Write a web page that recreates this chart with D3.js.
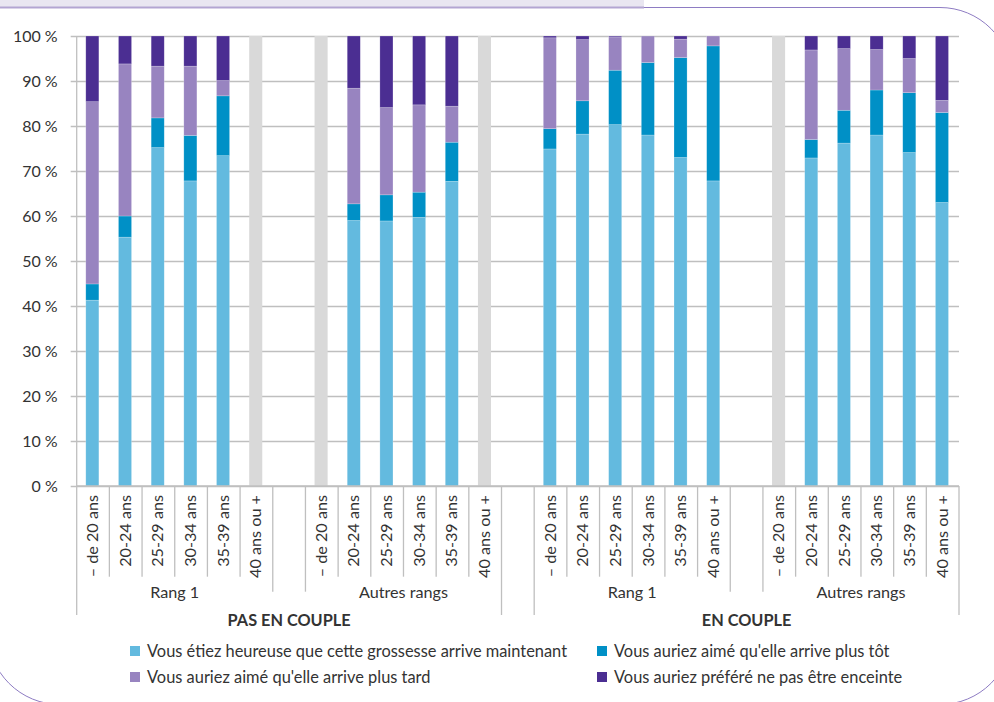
<!DOCTYPE html>
<html><head><meta charset="utf-8">
<script src="https://cdn.jsdelivr.net/npm/d3@7"></script>
<style>body{margin:0;background:#fff}svg{display:block}text{font-family:Lato,"Open Sans",sans-serif;fill:#333}</style>
</head><body><svg id="c" width="994" height="702"></svg>
<script>
const coupleGroups = ["PAS EN COUPLE", "EN COUPLE"];
const rangGroups = ["Rang 1", "Autres rangs"];
const ages = ["– de 20 ans", "20-24 ans", "25-29 ans", "30-34 ans", "35-39 ans", "40 ans ou +"];
const seriesNames = [
  "Vous étiez heureuse que cette grossesse arrive maintenant",
  "Vous auriez aimé qu'elle arrive plus tôt",
  "Vous auriez aimé qu'elle arrive plus tard",
  "Vous auriez préféré ne pas être enceinte"
];
// order: PAS EN COUPLE/Rang 1, PAS EN COUPLE/Autres rangs, EN COUPLE/Rang 1, EN COUPLE/Autres rangs ; null = no data (grey bar)
const heureuse = [41.3,55.3,75.2,67.8,73.4,null, null,59.0,58.9,59.7,67.7,null, 74.9,78.2,80.3,78.0,73.0,67.8, null,72.9,76.2,78.0,74.1,63.0];
const plusTot  = [3.6,4.7,6.6,10.1,13.3,null, null,3.7,5.8,5.6,8.7,null, 4.5,7.4,12.1,16.1,22.2,30.0, null,4.1,7.3,10.0,13.3,20.0];
const plusTard = [40.5,33.8,11.5,15.4,3.4,null, null,25.7,19.4,19.4,8.0,null, 20.2,13.6,7.4,5.8,4.1,2.2, null,19.9,13.7,9.0,7.6,2.7];
const pasEnceinte = [14.6,6.2,6.7,6.7,9.9,null, null,11.6,15.9,15.3,15.6,null, 0.4,0.8,0.2,0.1,0.7,0.0, null,3.1,2.8,3.0,5.0,14.3];
const yTicks = [0,10,20,30,40,50,60,70,80,90,100];

(function(){
const colors = ["#63BADF", "#0090C6", "#9884C0", "#4B2E92"];
const naColor = "#D9D9D9";
const gridColor = "#BFBFBF";
const svg = d3.select("#c");

// frame (rounded, open at top-left where the header band sits)
const fr = 72, fl = -12, frt = 1012, ft = 7.5, fb = 704.5;
const fp = d3.path();
fp.moveTo(644, ft);
fp.lineTo(frt - fr, ft);
fp.arcTo(frt, ft, frt, ft + fr, fr);
fp.lineTo(frt, fb - fr);
fp.arcTo(frt, fb, frt - fr, fb, fr);
fp.lineTo(fl + fr, fb);
fp.arcTo(fl, fb, fl, fb - fr, fr);
fp.lineTo(fl, ft + 20);
svg.append("path").attr("d", fp.toString()).attr("fill","none").attr("stroke","#8E7CC3").attr("stroke-width",1);
svg.append("rect").attr("x",0).attr("y",-2).attr("width",644).attr("height",9.5).attr("fill","#E9E6F1");
svg.append("line").attr("x1",0).attr("x2",644).attr("y1",7.5).attr("y2",7.5).attr("stroke","#B3A5D2").attr("stroke-width",2);

const cats = [];
const slots = [];
let idx = 0;
coupleGroups.forEach((cg, ci) => {
  rangGroups.forEach((rg, ri) => {
    ages.forEach(a => {
      const key = cg + "|" + rg + "|" + a;
      cats.push({key, cg, rg, age: a, i: idx,
        vals: [heureuse[idx], plusTot[idx], plusTard[idx], pasEnceinte[idx]]});
      slots.push(key);
      idx++;
    });
    if (!(ci === coupleGroups.length - 1 && ri === rangGroups.length - 1)) slots.push("gap" + ci + ri);
  });
});

const pl = 76.7, pr = 959, pt = 36, pb = 486;
const x = d3.scaleBand().domain(slots).range([pl, pr]).padding(0);
const y = d3.scaleLinear().domain([0, 100]).range([pb, pt]);
const bw = x.step() * 0.4;

const yAxis = d3.axisLeft(y).tickValues(yTicks).tickSize(pr - pl + 6).tickFormat(d => d + " %");
const gy = svg.append("g").attr("transform", `translate(${pr},0)`).call(yAxis);
gy.select(".domain").remove();
gy.selectAll(".tick line").attr("stroke", gridColor).attr("stroke-width", 1.3);
gy.selectAll(".tick text").attr("x", -(pr - pl) - 19).style("font-size", "16px").attr("fill", "#333").style("font-family","Lato");

const g = svg.append("g");
cats.forEach(c => {
  const cx = x(c.key) + x.step() / 2 - 0.7;
  if (c.vals.every(v => v === null)) {
    g.append("rect").attr("x", cx - bw / 2).attr("width", bw)
      .attr("y", y(100)).attr("height", y(0) - y(100)).attr("fill", naColor);
    return;
  }
  let acc = 0;
  c.vals.forEach((v, si) => {
    if (!v) return;
    g.append("rect").attr("x", cx - bw / 2).attr("width", bw)
      .attr("y", y(acc + v)).attr("height", y(acc) - y(acc + v))
      .attr("fill", colors[si]).attr("stroke", "#fff").attr("stroke-opacity", 0.35).attr("stroke-width", 0.6);
    acc += v;
  });
});

svg.append("line").attr("x1", pl).attr("x2", pl).attr("y1", pt).attr("y2", 615).attr("stroke", gridColor).attr("stroke-width", 1.3);
svg.append("line").attr("x1", pl).attr("x2", pr).attr("y1", pb).attr("y2", pb).attr("stroke", gridColor).attr("stroke-width", 1.3);

slots.forEach((s, k) => {
  if (k === 0) return;
  const xb = x(s);
  const prevCat = cats.find(c => c.key === slots[k - 1]), curCat = cats.find(c => c.key === s);
  let y2 = 576.7;
  if (!prevCat || !curCat) {
    const gapKey = !prevCat ? slots[k - 1] : s;
    y2 = gapKey === "gap01" ? 615 : 591.7;
  }
  svg.append("line").attr("x1", xb).attr("x2", xb).attr("y1", pb).attr("y2", y2).attr("stroke", gridColor).attr("stroke-width", 1.3);
});
svg.append("line").attr("x1", pr).attr("x2", pr).attr("y1", pb).attr("y2", 615).attr("stroke", gridColor).attr("stroke-width", 1.3);

cats.forEach(c => {
  const cx = x(c.key) + x.step() / 2;
  svg.append("text").attr("transform", `translate(${cx + 5},495) rotate(-90)`)
    .attr("text-anchor", "end").style("font-size", "16.2px").text(c.age);
});
coupleGroups.forEach(cg => {
  rangGroups.forEach(rg => {
    const ks = cats.filter(c => c.cg === cg && c.rg === rg);
    const x0 = x(ks[0].key), x1 = x(ks[ks.length - 1].key) + x.step();
    svg.append("text").attr("x", (x0 + x1) / 2).attr("y", 598).attr("text-anchor", "middle").style("font-size", "16.2px").text(rg);
  });
  const ks = cats.filter(c => c.cg === cg);
  const x0 = x(ks[0].key), x1 = x(ks[ks.length - 1].key) + x.step();
  svg.append("text").attr("x", (x0 + x1) / 2).attr("y", 626).attr("text-anchor", "middle")
    .style("font-size", "16.3px").style("font-weight", "bold").attr("fill", "#222").text(cg);
});

const legPos = [[130, 651], [597, 651], [130, 677], [597, 677]];
seriesNames.forEach((n, i) => {
  const [lx, ly] = legPos[i];
  svg.append("rect").attr("x", lx).attr("y", ly - 5).attr("width", 10).attr("height", 10).attr("fill", colors[i]);
  svg.append("text").attr("x", lx + 17).attr("y", ly + 5.5).style("font-size", "16.4px").text(n);
});
})();
</script></body></html>
